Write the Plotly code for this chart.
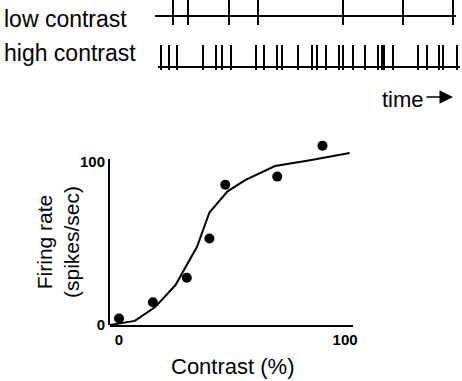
import plotly.graph_objects as go

# ---- data ----
low_spikes = [18, 33, 74, 103, 188, 248, 298]
high_spikes = [6, 14, 22, 48, 61, 67, 76, 101, 109, 122, 127, 143, 157, 162, 171,
               184, 188, 198, 210, 223, 227, 229, 238, 263, 272, 284, 288, 302]
low_span = [0, 301]
high_span = [3, 305]

contrast = [0, 15, 30, 40, 47, 70, 90]
rate = [4, 14, 29, 53, 86, 91, 110]
fit_contrast = [-4, 7, 16, 25, 34.5, 40, 48, 56, 69, 84.5, 102]
fit_rate = [0, 2.5, 11, 24.5, 48, 69, 82, 89, 97.5, 101, 105.5]

x_ticks = [0, 100]
y_ticks = [0, 100]

W, H = 462, 381
FONT = "Liberation Sans"

def px(x):
    return x / W

def py(y):
    return 1 - y / H

# raster row geometry (in raster-axis units, top-down)
LOW_ROW = dict(base=16, top=0, bottom=25)
HIGH_ROW = dict(base=67, top=45, bottom=70)

# plot frame geometry (pixels)
AX_LEFT, AX_RIGHT = 110, 353
AX_BOTTOM, AX_TOP = 325, 159
DATA_TOP = 125
Y_PER_PX = 101.8 / (AX_BOTTOM - AX_TOP)


def tick_xy(times, row):
    xs, ys = [], []
    for t in times:
        xs += [t, t, None]
        ys += [row["top"], row["bottom"], None]
    return xs, ys


fig = go.Figure()

for times, span, row in [(low_spikes, low_span, LOW_ROW), (high_spikes, high_span, HIGH_ROW)]:
    fig.add_trace(go.Scatter(x=span, y=[row["base"], row["base"]], mode="lines",
                             line=dict(color="black", width=2), xaxis="x2", yaxis="y2",
                             showlegend=False, hoverinfo="skip"))
    xs, ys = tick_xy(times, row)
    fig.add_trace(go.Scatter(x=xs, y=ys, mode="lines",
                             line=dict(color="black", width=2), xaxis="x2", yaxis="y2",
                             showlegend=False, hoverinfo="skip"))

# empty trace so the visible y axis frame gets drawn
fig.add_trace(go.Scatter(x=[None], y=[None], xaxis="x", yaxis="y3",
                         showlegend=False, hoverinfo="skip"))
fig.add_trace(go.Scatter(x=fit_contrast, y=fit_rate, mode="lines",
                         line=dict(color="black", width=2), showlegend=False,
                         cliponaxis=False))
fig.add_trace(go.Scatter(x=contrast, y=rate, mode="markers",
                         marker=dict(color="black", size=10), showlegend=False,
                         cliponaxis=False))

tickfont = dict(family=FONT, size=15, weight="bold", color="black")

fig.update_layout(
    width=W, height=H,
    margin=dict(l=0, r=0, t=0, b=0),
    paper_bgcolor="white", plot_bgcolor="rgba(0,0,0,0)",
    font=dict(family=FONT, color="black"),
    xaxis=dict(domain=[px(AX_LEFT), px(AX_RIGHT)], range=[-3.98, 103.5],
               showline=True, linecolor="black", linewidth=2, showgrid=False,
               zeroline=False, ticks="", tickvals=x_ticks, tickfont=tickfont,
               automargin=False, anchor="y"),
    yaxis=dict(domain=[py(AX_BOTTOM), py(DATA_TOP)],
               range=[0, (AX_BOTTOM - DATA_TOP) * Y_PER_PX],
               visible=False, automargin=False, anchor="x"),
    yaxis3=dict(domain=[py(AX_BOTTOM), py(AX_TOP)], range=[0, 101.8],
                showline=True, linecolor="black", linewidth=2, showgrid=False,
                zeroline=False, ticks="", tickvals=y_ticks, tickfont=tickfont,
                automargin=False, anchor="x"),
    xaxis2=dict(domain=[px(155), px(460)], range=[0, 305], visible=False,
                anchor="y2"),
    yaxis2=dict(domain=[py(80), 1], range=[80, 0], visible=False, anchor="x2"),
    annotations=[
        dict(text="low contrast", x=px(2), y=py(19), xref="paper", yref="paper",
             xanchor="left", yanchor="middle", showarrow=False,
             font=dict(family=FONT, size=23)),
        dict(text="high contrast", x=px(2), y=py(53), xref="paper", yref="paper",
             xanchor="left", yanchor="middle", showarrow=False,
             font=dict(family=FONT, size=23)),
        dict(text="time", x=px(380), y=py(99), xref="paper", yref="paper",
             xanchor="left", yanchor="middle", showarrow=False,
             font=dict(family=FONT, size=22)),
        dict(text="", x=px(453), y=py(97), xref="paper", yref="paper",
             ax=-28, ay=0, showarrow=True, arrowhead=2, arrowsize=1.8,
             arrowwidth=1.5, arrowcolor="black"),
        dict(text="Firing rate<br>(spikes/sec)", x=px(58), y=py(242),
             xref="paper", yref="paper", xanchor="center", yanchor="middle",
             textangle=-90, showarrow=False, font=dict(family=FONT, size=21)),
        dict(text="Contrast (%)", x=px(232), y=py(366), xref="paper", yref="paper",
             xanchor="center", yanchor="middle", showarrow=False,
             font=dict(family=FONT, size=22)),
    ],
)

fig.write_html("out.html", config={"displayModeBar": False},
               post_script="document.body.style.margin='0px';document.body.style.overflow='hidden';")
